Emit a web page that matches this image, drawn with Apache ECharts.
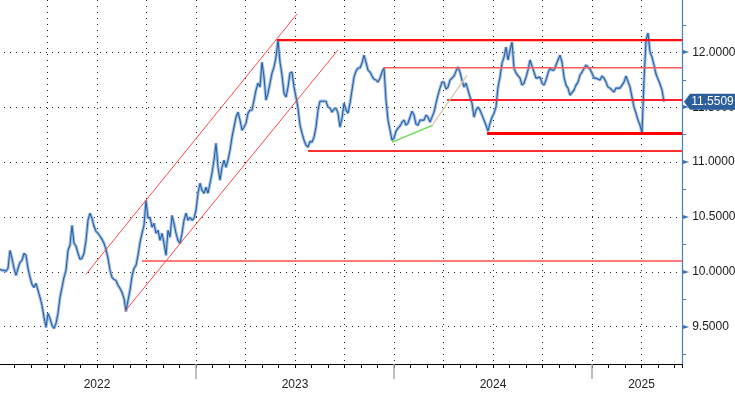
<!DOCTYPE html>
<html><head><meta charset="utf-8">
<script src="https://cdn.jsdelivr.net/npm/echarts@6/dist/echarts.min.js"></script>
<style>html,body{margin:0;padding:0;background:#fff}#c{width:735px;height:393px}</style>
</head><body><div id="c"></div>
<script>
// Price samples (roughly every 3.7 days starting early Jan 2022)
const prices = [
10.023,10.014,10.014,10.005,10.032,10.196,10.123,10.032,9.968,10.032,
10.087,10.105,10.169,10.150,10.032,9.950,9.886,9.858,9.895,9.831,
9.767,9.694,9.585,9.493,9.621,9.576,9.512,9.484,9.530,9.621,
9.767,9.858,9.950,10.014,10.196,10.242,10.424,10.260,10.233,10.169,
10.114,10.123,10.169,10.287,10.470,10.534,10.488,10.415,10.369,10.351,
10.324,10.296,10.260,10.205,10.123,10.014,9.950,9.931,9.922,9.877,
9.849,9.813,9.758,9.639,9.740,9.831,9.959,10.032,10.059,10.150,
10.269,10.351,10.424,10.652,10.488,10.497,10.406,10.442,10.351,10.379,
10.287,10.351,10.260,10.150,10.379,10.315,10.515,10.442,10.351,10.287,
10.260,10.351,10.470,10.534,10.470,10.497,10.470,10.488,10.561,10.716,
10.807,10.743,10.716,10.771,10.716,10.807,10.899,11.017,11.172,10.953,
10.835,10.953,11.017,10.953,11.017,11.108,11.227,11.318,11.409,11.455,
11.382,11.291,11.318,11.355,11.446,11.473,11.473,11.565,11.656,11.720,
11.683,11.911,11.774,11.565,11.628,11.720,11.811,11.866,11.957,12.112,
11.911,11.793,11.628,11.592,11.683,11.811,11.820,11.683,11.592,11.492,
11.336,11.264,11.200,11.154,11.136,11.190,11.181,11.227,11.318,11.473,
11.555,11.555,11.565,11.555,11.501,11.492,11.455,11.482,11.492,11.446,
11.318,11.400,11.537,11.473,11.446,11.537,11.656,11.774,11.829,11.857,
11.857,11.902,11.975,11.911,11.838,11.820,11.784,11.756,11.747,11.729,
11.765,11.820,11.857,11.565,11.382,11.291,11.200,11.218,11.282,11.309,
11.327,11.364,11.382,11.336,11.355,11.409,11.464,11.428,11.346,11.336,
11.382,11.382,11.382,11.428,11.409,11.364,11.382,11.455,11.537,11.610,
11.674,11.729,11.729,11.665,11.683,11.747,11.765,11.784,11.829,11.866,
11.820,11.747,11.683,11.720,11.656,11.592,11.537,11.409,11.473,11.501,
11.473,11.428,11.382,11.336,11.282,11.355,11.409,11.446,11.501,11.683,
11.774,11.902,11.957,12.048,11.930,12.021,12.094,11.857,11.811,11.793,
11.765,11.701,11.720,11.774,11.838,11.930,11.930,11.820,11.765,11.774,
11.774,11.720,11.701,11.747,11.811,11.857,11.838,11.838,11.884,11.930,
11.975,11.911,11.774,11.701,11.674,11.610,11.592,11.656,11.701,11.729,
11.793,11.820,11.838,11.884,11.875,11.847,11.811,11.765,11.765,11.747,
11.747,11.784,11.765,11.729,11.683,11.674,11.656,11.638,11.674,11.674,
11.674,11.701,11.729,11.784,11.793,11.683,11.592,11.501,11.446,11.382,
11.336,11.264,11.747,12.112,12.176,12.003,11.957,11.884,11.802,11.756,
11.711,11.656,11.551
];
const startYear = 2022.0101;     // first sample (decimal year)
const stepYears = 0.010101;      // sample spacing (decimal years)
const lastValue = 11.5509;

const yearLabels = ['2022', '2023', '2024', '2025'];
const yearLabelAt = [2022.5, 2023.5, 2024.5, 2025.25];

// Horizontal support / resistance levels and where each starts
const levelValues = [12.112, 11.86, 11.565, 11.261, 11.102, 10.099];
const levelStarts = [2023.409, 2023.949, 2024.268, 2024.470, 2023.566, 2022.727];
// Trend lines [decimal year, price]
const channelUpper = [[2022.444, 9.977], [2023.510, 12.349]];
const channelLower = [[2022.641, 9.640], [2023.717, 12.021]];
const greenTrend = [[2023.990, 11.181], [2024.197, 11.336]];
const tanTrend = [[2024.197, 11.345], [2024.369, 11.793]];

// ---- layout / styling ----
const W = 735, H = 393;
const X_MIN = 2022, X_MAX = 2025.4545, Y_MIN = 9.16, Y_MAX = 12.477;
const PLOT_L = -2, PLOT_R = 682, PLOT_B = 364;
const ppx = (PLOT_R - PLOT_L) / (X_MAX - X_MIN);
const ppy = PLOT_B / (Y_MAX - Y_MIN);
const yPix = v => (Y_MAX - v) * ppy;
const FONT = 'Liberation Sans';
const levelStyles = [
  {color: '#ff1010', width: 2.2},
  {color: '#ff5a5a', width: 1.5},
  {color: '#ff2030', width: 2},
  {color: '#ff0000', width: 3},
  {color: '#ff3030', width: 2},
  {color: '#ff7a7a', width: 2}
];
const dottedX = {color: '#222', width: 1, type: [1, 5]};
const dottedY = {color: '#222', width: 1, type: [1, 5]};
const plotW = PLOT_R - PLOT_L;

const series = [];
const pts = prices.map((p, i) => [startYear + i * stepYears, p]);
series.push({type: 'line', data: pts, symbol: 'none', z: 2, silent: true,
  lineStyle: {color: '#a7c1e2', width: 3.2}});
series.push({type: 'line', data: pts, symbol: 'none', z: 3, silent: true,
  lineStyle: {color: '#2662a6', width: 1.1},
  markPoint: {
    silent: true,
    data: [{coord: [X_MAX, lastValue], value: lastValue}],
    symbol: 'path://M0,8 L6,0 L51,0 L51,16 L6,16 Z',
    symbolSize: [51, 16], symbolOffset: [27.5, 0],
    itemStyle: {color: '#2c5e9b'},
    label: {show: true, position: 'inside', offset: [3, 0], color: '#fff',
      fontFamily: FONT, fontSize: 12, formatter: () => lastValue.toFixed(4)}
  }});
levelValues.forEach((v, i) => {
  series.push({type: 'line', data: [[levelStarts[i], v], [X_MAX, v]], symbol: 'none', z: 5, silent: true,
    lineStyle: {color: levelStyles[i].color, width: levelStyles[i].width}});
});
[[channelUpper, '#ff4a4a', 1], [channelLower, '#ff4a4a', 1], [greenTrend, '#5fe04a', 1.3], [tanTrend, '#d9c9a6', 1.3]]
  .forEach(([d, c, w]) => series.push({type: 'line', data: d, symbol: 'none', z: 5, silent: true,
    lineStyle: {color: c, width: w}}));

const G = (o) => Object.assign({outerBoundsMode: 'none', containLabel: false}, o);
const option = {
  animation: false,
  backgroundColor: '#fff',
  textStyle: {fontFamily: FONT},
  grid: [
    G({left: PLOT_L, width: plotW, top: 0, height: PLOT_B}),
    G({left: PLOT_L, width: plotW, top: yPix(12.5), height: yPix(9.5) - yPix(12.5)}),
    G({left: PLOT_L, width: plotW, top: yPix(12.5), height: yPix(9.25) - yPix(12.5)}),
    G({left: PLOT_L, width: 4 * ppx, top: 0, height: PLOT_B})
  ],
  xAxis: [
    {gridIndex: 0, type: 'value', min: X_MIN, max: X_MAX, interval: 0.25,
      axisLine: {lineStyle: {color: '#000', width: 1}},
      axisTick: {show: true, length: 4, lineStyle: {color: '#000'}},
      minorTick: {show: true, splitNumber: 3, length: 4, lineStyle: {color: '#000'}},
      minorSplitLine: {show: false},
      splitLine: {show: true, lineStyle: dottedX},
      axisLabel: {margin: 15, color: '#222', fontSize: 12, fontFamily: FONT,
        formatter: v => { const k = yearLabelAt.findIndex(a => Math.abs(a - v) < 1e-6); return k >= 0 ? yearLabels[k] : ''; }}},
    {gridIndex: 1, type: 'value', min: X_MIN, max: X_MAX, show: false},
    {gridIndex: 2, type: 'value', min: X_MIN, max: X_MAX, show: false},
    {gridIndex: 3, type: 'value', min: 2022, max: 2026, interval: 1, position: 'bottom', offset: 14,
      axisLine: {show: false}, axisLabel: {show: false}, splitLine: {show: false},
      axisTick: {show: true, length: 15, lineStyle: {color: '#aaaaaa', width: 1.5}}}
  ],
  yAxis: [
    {gridIndex: 0, type: 'value', min: Y_MIN, max: Y_MAX, position: 'right',
      axisLine: {show: true, lineStyle: {color: '#4a7cc0', width: 1.2}},
      axisTick: {show: false}, axisLabel: {show: false}, splitLine: {show: false}},
    {gridIndex: 1, type: 'value', min: 9.5, max: 12.5, interval: 0.5, position: 'right',
      axisLine: {show: false}, axisTick: {show: false},
      splitLine: {show: true, lineStyle: dottedY},
      axisLabel: {margin: 1, showMaxLabel: false,
        formatter: v => v > 12.25 ? '' : '{t|\u25BA}{v|' + v.toFixed(4) + '}',
        rich: {t: {fontSize: 8, color: '#3a70b8', padding: [0, 3, 0, 0], fontFamily: 'DejaVu Sans'},
               v: {fontSize: 12, color: '#1a1a1a', fontFamily: FONT}}}},
    {gridIndex: 2, type: 'value', min: 9.25, max: 12.5, interval: 0.25, position: 'right',
      axisLine: {show: false}, axisLabel: {show: false}, splitLine: {show: false},
      axisTick: {show: true, length: 4, lineStyle: {color: '#4a7cc0'}}},
    {gridIndex: 3, type: 'value', show: false, min: 0, max: 1}
  ],
  series: series
};
echarts.init(document.getElementById('c'), null, {renderer: 'canvas'}).setOption(option);
</script>
</body></html>
